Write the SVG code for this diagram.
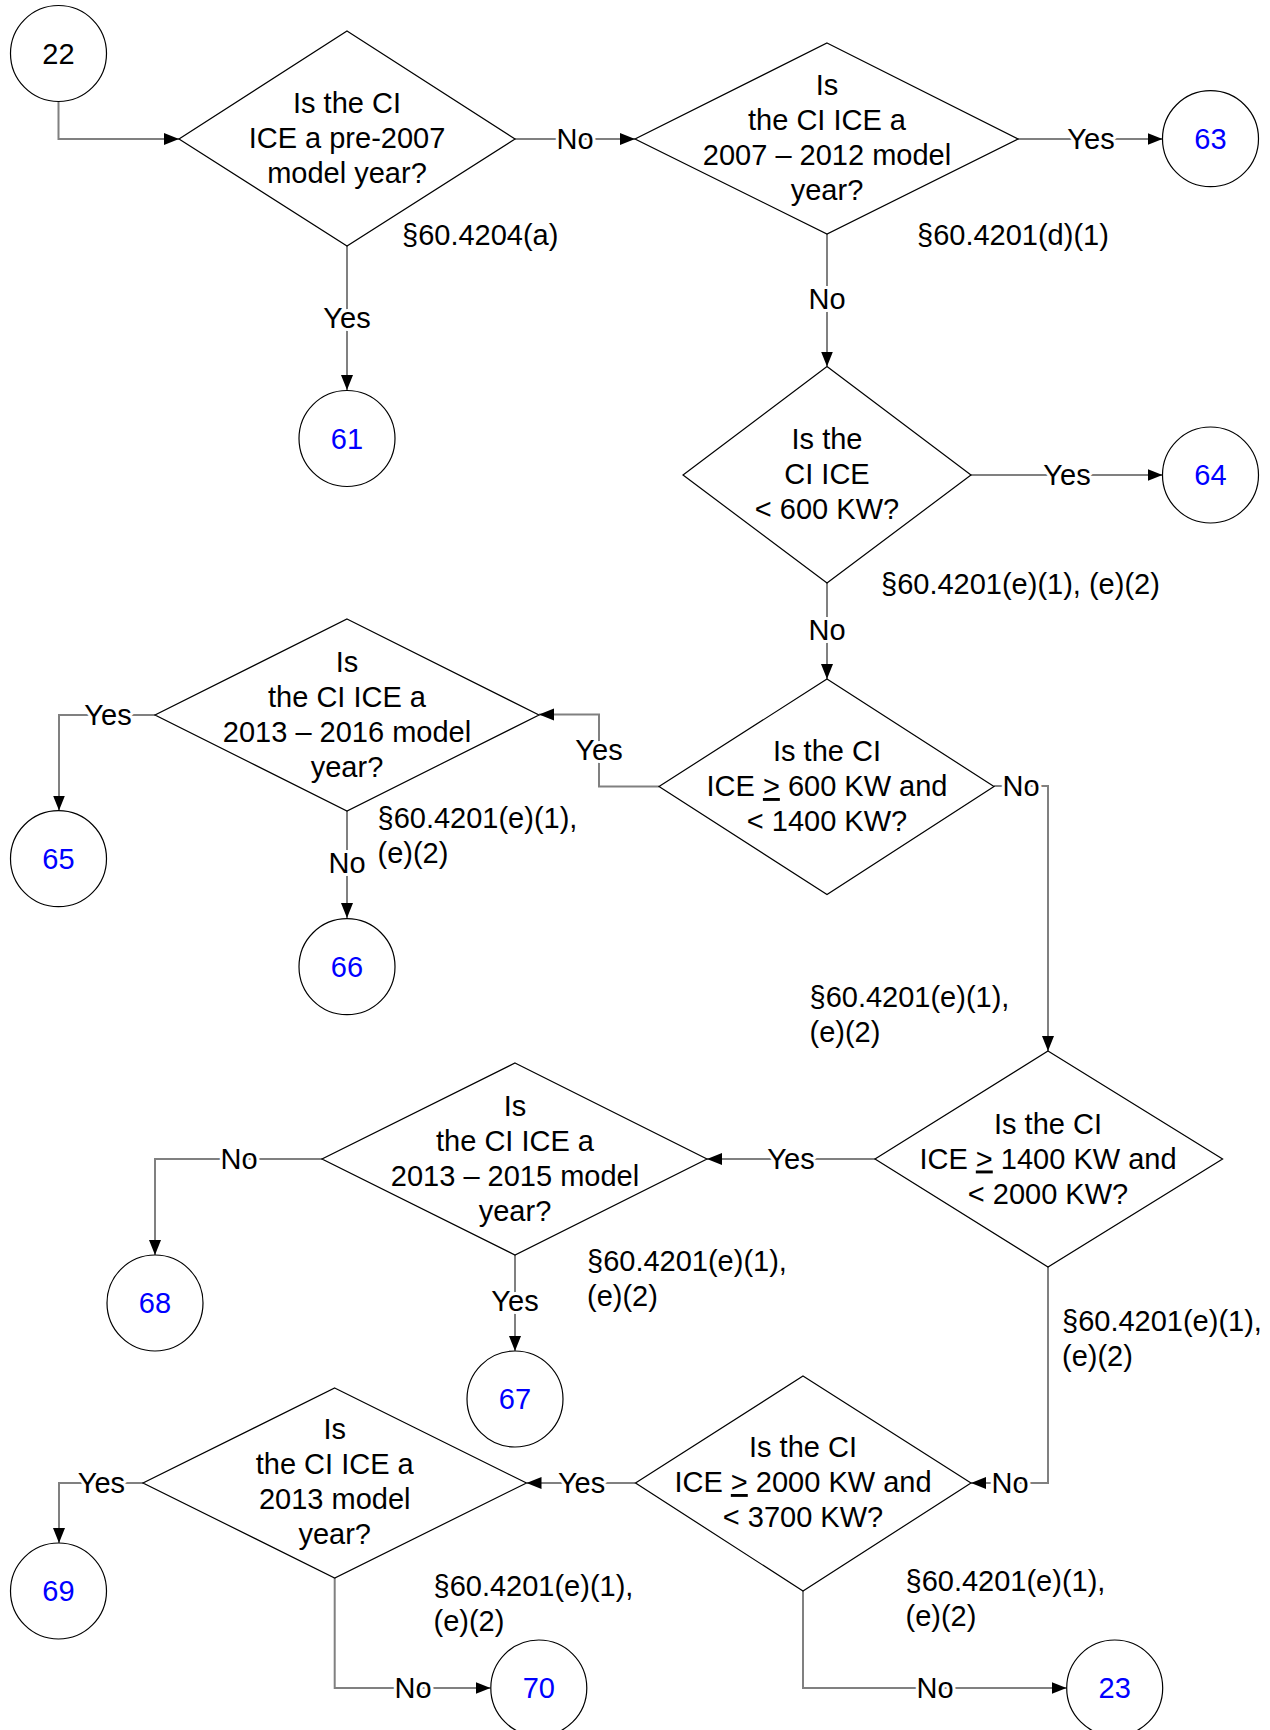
<svg xmlns="http://www.w3.org/2000/svg" width="1270" height="1730" viewBox="0 0 1270 1730">
<style>
text{font-family:"Liberation Sans",Arial,sans-serif;font-size:29px;fill:#000}
.q{text-anchor:middle}
.num{text-anchor:middle;fill:#0000ff}
.lbl{text-anchor:middle;stroke:#fff;stroke-width:6px;paint-order:stroke;stroke-linejoin:round}
.ref{text-anchor:start}
.dia{fill:#fff;stroke:#000;stroke-width:1.2}
.cir{fill:#fff;stroke:#000;stroke-width:1.2}
.con{fill:none;stroke:#808080;stroke-width:2;marker-end:url(#ah)}
</style>
<defs>
<marker id="ah" markerUnits="userSpaceOnUse" markerWidth="16" markerHeight="13" refX="15" refY="6" orient="auto">
<path d="M0,0 L15,6 L0,12 z" fill="#000"/>
</marker>
</defs>
<g id="connectors">
<path class="con" d="M58.5 101 V139 H179"/>
<path class="con" d="M515 139 H635"/>
<path class="con" d="M1018 139 H1162.5"/>
<path class="con" d="M347 246 V390"/>
<path class="con" d="M827 234 V366.5"/>
<path class="con" d="M971 475 H1162.5"/>
<path class="con" d="M827 583 V679"/>
<path class="con" d="M994 786 H1048 V1051"/>
<path class="con" d="M659 786.5 H599 V714.5 H539"/>
<path class="con" d="M155 715 H59 V810.5"/>
<path class="con" d="M347 811 V918"/>
<path class="con" d="M875 1159 H707"/>
<path class="con" d="M322 1159 H155 V1255"/>
<path class="con" d="M515 1255 V1351"/>
<path class="con" d="M1048 1267 V1483 H971"/>
<path class="con" d="M635.5 1483 H526.5"/>
<path class="con" d="M143 1483 H59 V1543"/>
<path class="con" d="M334.7 1578 V1688 H490.5"/>
<path class="con" d="M803 1591 V1688 H1066.5"/>
<text class="lbl" x="575" y="149">No</text>
<text class="lbl" x="1091" y="149">Yes</text>
<text class="lbl" x="347" y="328">Yes</text>
<text class="lbl" x="827" y="309">No</text>
<text class="lbl" x="1067" y="485">Yes</text>
<text class="lbl" x="827" y="640">No</text>
<text class="lbl" x="1021" y="796">No</text>
<text class="lbl" x="599" y="760">Yes</text>
<text class="lbl" x="108" y="725">Yes</text>
<text class="lbl" x="347" y="873">No</text>
<text class="lbl" x="791" y="1169">Yes</text>
<text class="lbl" x="239" y="1169">No</text>
<text class="lbl" x="515" y="1311">Yes</text>
<text class="lbl" x="1010" y="1493">No</text>
<text class="lbl" x="581.6" y="1493">Yes</text>
<text class="lbl" x="101.4" y="1493">Yes</text>
<text class="lbl" x="413" y="1698">No</text>
<text class="lbl" x="935" y="1698">No</text>
</g>
<g id="n22">
<circle class="cir" cx="58.5" cy="53.5" r="48"/>
<text class="q" x="58.5" y="63.5">22</text>
</g>
<g id="d1">
<polygon class="dia" points="347,31 515,139 347,246 179,139"/>
<text class="q" x="347" y="113">Is the CI</text>
<text class="q" x="347" y="148">ICE a pre-2007</text>
<text class="q" x="347" y="183">model year?</text>
<text class="ref" x="402" y="245">§60.4204(a)</text>
</g>
<g id="n61">
<circle class="cir" cx="347" cy="438.5" r="48"/>
<text class="num" x="347" y="448.5">61</text>
</g>
<g id="d2">
<polygon class="dia" points="827,43 1018,139 827,234 635,139"/>
<text class="q" x="827" y="95">Is</text>
<text class="q" x="827" y="130">the CI ICE a</text>
<text class="q" x="827" y="165">2007 – 2012 model</text>
<text class="q" x="827" y="200">year?</text>
<text class="ref" x="917" y="245">§60.4201(d)(1)</text>
</g>
<g id="n63">
<circle class="cir" cx="1210.5" cy="138.7" r="48"/>
<text class="num" x="1210.5" y="148.7">63</text>
</g>
<g id="d3">
<polygon class="dia" points="827,366.5 971,475 827,583 683,475"/>
<text class="q" x="827" y="449">Is the</text>
<text class="q" x="827" y="484">CI ICE</text>
<text class="q" x="827" y="519">&lt; 600 KW?</text>
<text class="ref" x="881" y="594">§60.4201(e)(1), (e)(2)</text>
</g>
<g id="n64">
<circle class="cir" cx="1210.5" cy="475" r="48"/>
<text class="num" x="1210.5" y="485">64</text>
</g>
<g id="d4">
<polygon class="dia" points="827,679 994,786.5 827,894.5 659,786.5"/>
<text class="q" x="827" y="761">Is the CI</text>
<text class="q" x="827" y="796">ICE <tspan text-decoration="underline">&gt;</tspan> 600 KW and</text>
<text class="q" x="827" y="831">&lt; 1400 KW?</text>
<text class="ref" x="809.5" y="1007">§60.4201(e)(1),</text>
<text class="ref" x="809.5" y="1042">(e)(2)</text>
</g>
<g id="d65">
<polygon class="dia" points="347,619 539,715 347,811 155,715"/>
<text class="q" x="347" y="671.5">Is</text>
<text class="q" x="347" y="706.5">the CI ICE a</text>
<text class="q" x="347" y="741.5">2013 – 2016 model</text>
<text class="q" x="347" y="776.5">year?</text>
<text class="ref" x="377.5" y="828">§60.4201(e)(1),</text>
<text class="ref" x="377.5" y="863">(e)(2)</text>
</g>
<g id="n65">
<circle class="cir" cx="58.5" cy="858.7" r="48"/>
<text class="num" x="58.5" y="868.7">65</text>
</g>
<g id="n66">
<circle class="cir" cx="347" cy="966.7" r="48"/>
<text class="num" x="347" y="976.7">66</text>
</g>
<g id="d5">
<polygon class="dia" points="1048,1051 1222.6,1159 1048,1267 875,1159"/>
<text class="q" x="1048" y="1133.5">Is the CI</text>
<text class="q" x="1048" y="1168.5">ICE <tspan text-decoration="underline">&gt;</tspan> 1400 KW and</text>
<text class="q" x="1048" y="1203.5">&lt; 2000 KW?</text>
<text class="ref" x="1062" y="1331">§60.4201(e)(1),</text>
<text class="ref" x="1062" y="1366">(e)(2)</text>
</g>
<g id="d67">
<polygon class="dia" points="515,1063 707,1159 515,1255 322,1159"/>
<text class="q" x="515" y="1115.5">Is</text>
<text class="q" x="515" y="1150.5">the CI ICE a</text>
<text class="q" x="515" y="1185.5">2013 – 2015 model</text>
<text class="q" x="515" y="1220.5">year?</text>
<text class="ref" x="587" y="1271">§60.4201(e)(1),</text>
<text class="ref" x="587" y="1306">(e)(2)</text>
</g>
<g id="n68">
<circle class="cir" cx="155" cy="1303" r="48"/>
<text class="num" x="155" y="1313">68</text>
</g>
<g id="n67">
<circle class="cir" cx="515" cy="1399" r="48"/>
<text class="num" x="515" y="1409">67</text>
</g>
<g id="d6">
<polygon class="dia" points="803,1376 971,1483 803,1591 635.5,1483"/>
<text class="q" x="803" y="1457">Is the CI</text>
<text class="q" x="803" y="1492">ICE <tspan text-decoration="underline">&gt;</tspan> 2000 KW and</text>
<text class="q" x="803" y="1527">&lt; 3700 KW?</text>
<text class="ref" x="905.5" y="1591">§60.4201(e)(1),</text>
<text class="ref" x="905.5" y="1626">(e)(2)</text>
</g>
<g id="d69">
<polygon class="dia" points="334.7,1388 526.5,1483 334.7,1578 143,1483"/>
<text class="q" x="334.7" y="1439">Is</text>
<text class="q" x="334.7" y="1474">the CI ICE a</text>
<text class="q" x="334.7" y="1509">2013 model</text>
<text class="q" x="334.7" y="1544">year?</text>
<text class="ref" x="433.5" y="1596">§60.4201(e)(1),</text>
<text class="ref" x="433.5" y="1631">(e)(2)</text>
</g>
<g id="n69">
<circle class="cir" cx="58.5" cy="1591" r="48"/>
<text class="num" x="58.5" y="1601">69</text>
</g>
<g id="n70">
<circle class="cir" cx="538.8" cy="1688" r="48"/>
<text class="num" x="538.8" y="1698">70</text>
</g>
<g id="n23">
<circle class="cir" cx="1114.7" cy="1688" r="48"/>
<text class="num" x="1114.7" y="1698">23</text>
</g>
</svg>
